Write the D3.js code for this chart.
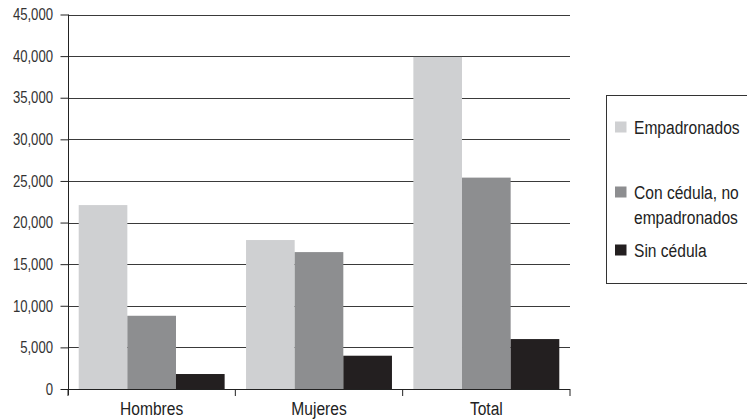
<!DOCTYPE html>
<html>
<head>
<meta charset="utf-8">
<script src="https://cdn.jsdelivr.net/npm/d3@7"></script>
<style>
  body { margin: 0; background: #fff; }
  svg { display: block; font-family: "Liberation Sans", Arial, sans-serif; }
</style>
</head>
<body>
<svg width="747" height="420"></svg>
<script>
var categories = ["Hombres", "Mujeres", "Total"];
var series = ["Empadronados", "Con cédula, no empadronados", "Sin cédula"];
var empadronados = [22100, 17900, 39900];
var conCedula = [8800, 16450, 25400];
var sinCedula = [1800, 4000, 6000];
var yTicks = [0, 5000, 10000, 15000, 20000, 25000, 30000, 35000, 40000, 45000];
var legendLines = [["Empadronados"], ["Con cédula, no", "empadronados"], ["Sin cédula"]];

var colors = ["#cfd0d2", "#8d8e90", "#231f20"];
var values = [empadronados, conCedula, sinCedula];

var svg = d3.select("svg");
var plotLeft = 68, plotRight = 570, plotBottom = 389, plotTop = 14.5;
var squeeze = 0.82; // condensed look

var x0 = d3.scaleBand().domain(categories).range([plotLeft, plotRight]).padding(0);
var x1 = d3.scaleBand().domain(series).range([0, x0.bandwidth()]).paddingInner(0).paddingOuter(0.22);
var y = d3.scaleLinear().domain([0, 45000]).range([plotBottom, plotTop]);

function place(x, yy) { return "translate(" + x + "," + yy + ") scale(" + squeeze + ",1)"; }

// gridlines
svg.append("g")
    .selectAll("line")
    .data(yTicks.filter(function (d) { return d > 0; }))
    .join("line")
    .attr("x1", plotLeft).attr("x2", plotRight)
    .attr("y1", function (d) { return Math.round(y(d)) + 0.5; })
    .attr("y2", function (d) { return Math.round(y(d)) + 0.5; })
    .attr("stroke", "#3a3a3a")
    .attr("stroke-width", 1);

// bars
var groups = svg.append("g")
    .selectAll("g")
    .data(categories)
    .join("g")
    .attr("transform", function (d) { return "translate(" + x0(d) + ",0)"; });

groups.selectAll("rect")
    .data(function (c, ci) {
        return series.map(function (s, si) { return { s: s, i: si, v: values[si][ci] }; });
    })
    .join("rect")
    .attr("x", function (d) { return x1(d.s); })
    .attr("width", x1.bandwidth())
    .attr("y", function (d) { return y(d.v); })
    .attr("height", function (d) { return plotBottom - y(d.v); })
    .attr("fill", function (d) { return colors[d.i]; });

// y axis
var yAxis = svg.append("g")
    .attr("transform", "translate(" + (plotLeft + 0.5) + ",0)")
    .call(d3.axisLeft(y).tickValues(yTicks).tickSize(8).tickFormat(""));
yAxis.select(".domain").remove();
yAxis.selectAll(".tick line").attr("stroke", "#222");
svg.append("g")
    .selectAll("text")
    .data(yTicks)
    .join("text")
    .attr("transform", function (d) { return place(53, y(d)); })
    .attr("dy", "0.36em")
    .attr("text-anchor", "end")
    .attr("font-size", 16)
    .attr("fill", "#333")
    .text(d3.format(","));
svg.append("line")
    .attr("x1", plotLeft + 0.5).attr("x2", plotLeft + 0.5)
    .attr("y1", plotTop).attr("y2", plotBottom + 6)
    .attr("stroke", "#222");

// x axis
svg.append("line")
    .attr("x1", plotLeft).attr("x2", plotRight)
    .attr("y1", plotBottom + 0.5).attr("y2", plotBottom + 0.5)
    .attr("stroke", "#222");
var bounds = categories.map(function (c) { return x0(c); }).concat([x0(categories[categories.length - 1]) + x0.bandwidth()]);
svg.append("g")
    .selectAll("line")
    .data(bounds)
    .join("line")
    .attr("x1", function (d) { return d; }).attr("x2", function (d) { return d; })
    .attr("y1", plotBottom).attr("y2", plotBottom + 7)
    .attr("stroke", "#222");
svg.append("g")
    .selectAll("text")
    .data(categories)
    .join("text")
    .attr("transform", function (d) { return place(x0(d) + x0.bandwidth() / 2, 415); })
    .attr("text-anchor", "middle")
    .attr("font-size", 19)
    .attr("fill", "#222")
    .text(function (d) { return d; });

// legend
var legend = svg.append("g");
legend.append("rect")
    .attr("x", 606.5).attr("y", 95.5)
    .attr("width", 200).attr("height", 188)
    .attr("fill", "#fff").attr("stroke", "#333");
var legendY = [127, 192, 250];
var item = legend.selectAll("g.item")
    .data(legendLines)
    .join("g")
    .attr("class", "item")
    .attr("transform", function (d, i) { return "translate(615," + legendY[i] + ")"; });
item.append("rect")
    .attr("x", 0).attr("y", -5.5)
    .attr("width", 11.5).attr("height", 11)
    .attr("fill", function (d, i) { return colors[i]; });
item.append("text")
    .attr("transform", place(19, 7))
    .attr("font-size", 19)
    .attr("fill", "#222")
    .selectAll("tspan")
    .data(function (d) { return d; })
    .join("tspan")
    .attr("x", 0)
    .attr("dy", function (d, i) { return i === 0 ? 0 : 25.5; })
    .text(function (d) { return d; });
</script>
</body>
</html>
